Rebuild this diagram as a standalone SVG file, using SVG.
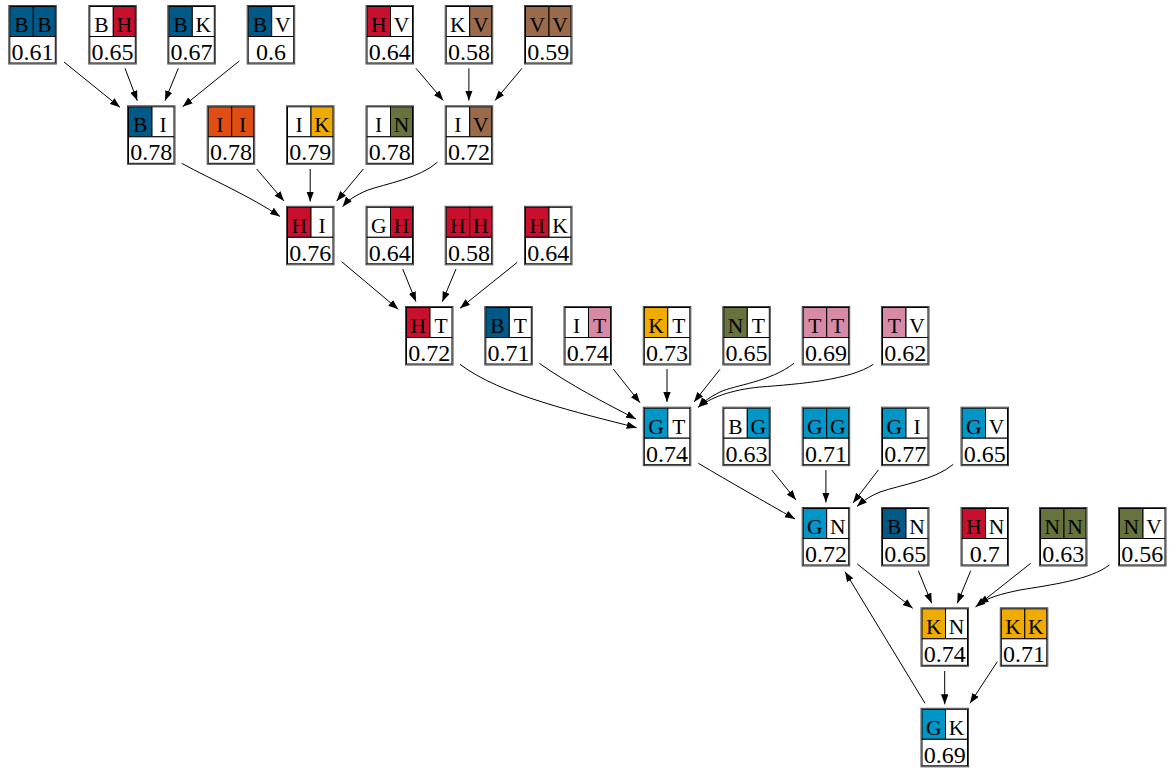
<svg xmlns="http://www.w3.org/2000/svg" width="1169" height="771" viewBox="0 0 1169 771">
<style>
.ob{fill:none;stroke:#444;stroke-width:1}
.c{stroke:#000;stroke-width:1}
.w{fill:#fff}
.B{fill:#005a87}.H{fill:#c8102e}.I{fill:#e04e14}.K{fill:#f0ab00}.N{fill:#66733c}.V{fill:#9a6a4a}.T{fill:#d68aa6}.G{fill:#0096c8}
.l{font-family:"Liberation Serif","Times New Roman",serif;font-size:21.5px;text-anchor:middle;fill:#000}
.n{font-family:"Liberation Serif","Times New Roman",serif;font-size:24px;text-anchor:middle;fill:#000}
.e{fill:none;stroke:#000;stroke-width:1}
</style>
<defs>
<marker id="ah" markerUnits="userSpaceOnUse" markerWidth="11" markerHeight="8" refX="10" refY="3.7" orient="auto">
<path d="M0,0 L10,3.7 L0,7.4 z" fill="#000"/>
</marker>
<g id="frame">
<rect class="ob" x="0.5" y="0.5" width="47.5" height="58.5"/>
</g>
</defs>
<rect width="1169" height="771" fill="#fff"/>

<g id="connectors">
<path class="e" marker-end="url(#ah)" d="M64,62 L120,107.3"/>
<path class="e" marker-end="url(#ah)" d="M125,68.3 L137.3,100.7"/>
<path class="e" marker-end="url(#ah)" d="M178.3,68.3 L165,100.7"/>
<path class="e" marker-end="url(#ah)" d="M239.3,61 L182.7,106.7"/>
<path class="e" marker-end="url(#ah)" d="M416,68.3 L443.3,100.5"/>
<path class="e" marker-end="url(#ah)" d="M468.9,68.3 L468.9,100.5"/>
<path class="e" marker-end="url(#ah)" d="M522,68.3 L495,100.5"/>
<path class="e" marker-end="url(#ah)" d="M181.7,163.3 C212,180 250,196 280,216.5"/>
<path class="e" marker-end="url(#ah)" d="M256.7,169 L284,201"/>
<path class="e" marker-end="url(#ah)" d="M310.2,169 L310.2,201.5"/>
<path class="e" marker-end="url(#ah)" d="M363.3,169 L336.7,201"/>
<path class="e" marker-end="url(#ah)" d="M437.3,162.3 C420,178 385,184 368,190 C356,195 348,200 342.7,206.7"/>
<path class="e" marker-end="url(#ah)" d="M341.7,261.7 L398.3,309.3"/>
<path class="e" marker-end="url(#ah)" d="M402.7,269 L416,301.7"/>
<path class="e" marker-end="url(#ah)" d="M456,269 L442.3,301.7"/>
<path class="e" marker-end="url(#ah)" d="M517.3,262.3 L460,308.3"/>
<path class="e" marker-end="url(#ah)" d="M460,364.3 C500,395 580,413 636.7,427.7"/>
<path class="e" marker-end="url(#ah)" d="M539.3,363.3 C570,385 605,403 636,419"/>
<path class="e" marker-end="url(#ah)" d="M613.3,369 L640,402.7"/>
<path class="e" marker-end="url(#ah)" d="M667,369 L667,402"/>
<path class="e" marker-end="url(#ah)" d="M720,369.3 L694,402"/>
<path class="e" marker-end="url(#ah)" d="M794,363.3 C770,382 735,385 720,392 C710,397 703,402 698.3,407.3"/>
<path class="e" marker-end="url(#ah)" d="M873.3,364.3 C850,380 800,384 760,387 C730,390 710,398 698.3,407.3"/>
<path class="e" marker-end="url(#ah)" d="M698.3,463.3 C730,482 765,502 795,519"/>
<path class="e" marker-end="url(#ah)" d="M771.7,470 L796,500"/>
<path class="e" marker-end="url(#ah)" d="M825.9,470 L825.9,502.5"/>
<path class="e" marker-end="url(#ah)" d="M878.3,470 L853,503"/>
<path class="e" marker-end="url(#ah)" d="M953.3,464.3 C935,480 900,485 880,492 C868,497 862,502 857,506.5"/>
<path class="e" marker-end="url(#ah)" d="M857.3,564 L912.7,608.3"/>
<path class="e" marker-end="url(#ah)" d="M918.3,570.7 L931.7,603.3"/>
<path class="e" marker-end="url(#ah)" d="M970.7,570.7 L957.3,603.3"/>
<path class="e" marker-end="url(#ah)" d="M1030.7,563.3 L975.5,607"/>
<path class="e" marker-end="url(#ah)" d="M1109.3,565 C1090,580 1050,585 1020,590 C1000,594 988,598 978.5,604"/>
<path class="e" marker-end="url(#ah)" d="M944.7,671 L944.7,704.3"/>
<path class="e" marker-end="url(#ah)" d="M997.3,661.7 L970,703.3"/>
<path class="e" marker-end="url(#ah)" d="M925,703.3 L845,571.7"/>
</g>

<g id="BB" transform="translate(8.3,5)"><rect class="c B" x="1.5" y="1.5" width="23.5" height="30"/><rect class="c B" x="25" y="1.5" width="22" height="30"/><rect class="c w" x="1.5" y="31.5" width="45.5" height="26.5"/><use href="#frame"/><text class="l" x="13.2" y="27">B</text><text class="l" x="36" y="27">B</text><text class="n" x="24.25" y="55">0.61</text></g>
<g id="BH" transform="translate(88.3,5)"><rect class="c w" x="1.5" y="1.5" width="23.5" height="30"/><rect class="c H" x="25" y="1.5" width="22" height="30"/><rect class="c w" x="1.5" y="31.5" width="45.5" height="26.5"/><use href="#frame"/><text class="l" x="13.2" y="27">B</text><text class="l" x="36" y="27">H</text><text class="n" x="24.25" y="55">0.65</text></g>
<g id="BK" transform="translate(167.3,5)"><rect class="c B" x="1.5" y="1.5" width="23.5" height="30"/><rect class="c w" x="25" y="1.5" width="22" height="30"/><rect class="c w" x="1.5" y="31.5" width="45.5" height="26.5"/><use href="#frame"/><text class="l" x="13.2" y="27">B</text><text class="l" x="36" y="27">K</text><text class="n" x="24.25" y="55">0.67</text></g>
<g id="BV" transform="translate(246.7,5)"><rect class="c B" x="1.5" y="1.5" width="23.5" height="30"/><rect class="c w" x="25" y="1.5" width="22" height="30"/><rect class="c w" x="1.5" y="31.5" width="45.5" height="26.5"/><use href="#frame"/><text class="l" x="13.2" y="27">B</text><text class="l" x="36" y="27">V</text><text class="n" x="24.25" y="55">0.6</text></g>
<g id="HV" transform="translate(365.5,5)"><rect class="c H" x="1.5" y="1.5" width="23.5" height="30"/><rect class="c w" x="25" y="1.5" width="22" height="30"/><rect class="c w" x="1.5" y="31.5" width="45.5" height="26.5"/><use href="#frame"/><text class="l" x="13.2" y="27">H</text><text class="l" x="36" y="27">V</text><text class="n" x="24.25" y="55">0.64</text></g>
<g id="KV" transform="translate(444.7,5)"><rect class="c w" x="1.5" y="1.5" width="23.5" height="30"/><rect class="c V" x="25" y="1.5" width="22" height="30"/><rect class="c w" x="1.5" y="31.5" width="45.5" height="26.5"/><use href="#frame"/><text class="l" x="13.2" y="27">K</text><text class="l" x="36" y="27">V</text><text class="n" x="24.25" y="55">0.58</text></g>
<g id="VV" transform="translate(524,5)"><rect class="c V" x="1.5" y="1.5" width="23.5" height="30"/><rect class="c V" x="25" y="1.5" width="22" height="30"/><rect class="c w" x="1.5" y="31.5" width="45.5" height="26.5"/><use href="#frame"/><text class="l" x="13.2" y="27">V</text><text class="l" x="36" y="27">V</text><text class="n" x="24.25" y="55">0.59</text></g>

<g id="BI" transform="translate(127,105.3)"><rect class="c B" x="1.5" y="1.5" width="23.5" height="30"/><rect class="c w" x="25" y="1.5" width="22" height="30"/><rect class="c w" x="1.5" y="31.5" width="45.5" height="26.5"/><use href="#frame"/><text class="l" x="13.2" y="27">B</text><text class="l" x="36" y="27">I</text><text class="n" x="24.25" y="55">0.78</text></g>
<g id="II" transform="translate(206.7,105.3)"><rect class="c I" x="1.5" y="1.5" width="23.5" height="30"/><rect class="c I" x="25" y="1.5" width="22" height="30"/><rect class="c w" x="1.5" y="31.5" width="45.5" height="26.5"/><use href="#frame"/><text class="l" x="13.2" y="27">I</text><text class="l" x="36" y="27">I</text><text class="n" x="24.25" y="55">0.78</text></g>
<g id="IK" transform="translate(286,105.3)"><rect class="c w" x="1.5" y="1.5" width="23.5" height="30"/><rect class="c K" x="25" y="1.5" width="22" height="30"/><rect class="c w" x="1.5" y="31.5" width="45.5" height="26.5"/><use href="#frame"/><text class="l" x="13.2" y="27">I</text><text class="l" x="36" y="27">K</text><text class="n" x="24.25" y="55">0.79</text></g>
<g id="IN" transform="translate(365.5,105.3)"><rect class="c w" x="1.5" y="1.5" width="23.5" height="30"/><rect class="c N" x="25" y="1.5" width="22" height="30"/><rect class="c w" x="1.5" y="31.5" width="45.5" height="26.5"/><use href="#frame"/><text class="l" x="13.2" y="27">I</text><text class="l" x="36" y="27">N</text><text class="n" x="24.25" y="55">0.78</text></g>
<g id="IV" transform="translate(444.7,105.3)"><rect class="c w" x="1.5" y="1.5" width="23.5" height="30"/><rect class="c V" x="25" y="1.5" width="22" height="30"/><rect class="c w" x="1.5" y="31.5" width="45.5" height="26.5"/><use href="#frame"/><text class="l" x="13.2" y="27">I</text><text class="l" x="36" y="27">V</text><text class="n" x="24.25" y="55">0.72</text></g>

<g id="HI" transform="translate(286,205.8)"><rect class="c H" x="1.5" y="1.5" width="23.5" height="30"/><rect class="c w" x="25" y="1.5" width="22" height="30"/><rect class="c w" x="1.5" y="31.5" width="45.5" height="26.5"/><use href="#frame"/><text class="l" x="13.2" y="27">H</text><text class="l" x="36" y="27">I</text><text class="n" x="24.25" y="55">0.76</text></g>
<g id="GH" transform="translate(365.5,205.8)"><rect class="c w" x="1.5" y="1.5" width="23.5" height="30"/><rect class="c H" x="25" y="1.5" width="22" height="30"/><rect class="c w" x="1.5" y="31.5" width="45.5" height="26.5"/><use href="#frame"/><text class="l" x="13.2" y="27">G</text><text class="l" x="36" y="27">H</text><text class="n" x="24.25" y="55">0.64</text></g>
<g id="HH" transform="translate(444.7,205.8)"><rect class="c H" x="1.5" y="1.5" width="23.5" height="30"/><rect class="c H" x="25" y="1.5" width="22" height="30"/><rect class="c w" x="1.5" y="31.5" width="45.5" height="26.5"/><use href="#frame"/><text class="l" x="13.2" y="27">H</text><text class="l" x="36" y="27">H</text><text class="n" x="24.25" y="55">0.58</text></g>
<g id="HK" transform="translate(524,205.8)"><rect class="c H" x="1.5" y="1.5" width="23.5" height="30"/><rect class="c w" x="25" y="1.5" width="22" height="30"/><rect class="c w" x="1.5" y="31.5" width="45.5" height="26.5"/><use href="#frame"/><text class="l" x="13.2" y="27">H</text><text class="l" x="36" y="27">K</text><text class="n" x="24.25" y="55">0.64</text></g>

<g id="HT" transform="translate(405,306)"><rect class="c H" x="1.5" y="1.5" width="23.5" height="30"/><rect class="c w" x="25" y="1.5" width="22" height="30"/><rect class="c w" x="1.5" y="31.5" width="45.5" height="26.5"/><use href="#frame"/><text class="l" x="13.2" y="27">H</text><text class="l" x="36" y="27">T</text><text class="n" x="24.25" y="55">0.72</text></g>
<g id="BT" transform="translate(484.3,306)"><rect class="c B" x="1.5" y="1.5" width="23.5" height="30"/><rect class="c w" x="25" y="1.5" width="22" height="30"/><rect class="c w" x="1.5" y="31.5" width="45.5" height="26.5"/><use href="#frame"/><text class="l" x="13.2" y="27">B</text><text class="l" x="36" y="27">T</text><text class="n" x="24.25" y="55">0.71</text></g>
<g id="IT" transform="translate(563.5,306)"><rect class="c w" x="1.5" y="1.5" width="23.5" height="30"/><rect class="c T" x="25" y="1.5" width="22" height="30"/><rect class="c w" x="1.5" y="31.5" width="45.5" height="26.5"/><use href="#frame"/><text class="l" x="13.2" y="27">I</text><text class="l" x="36" y="27">T</text><text class="n" x="24.25" y="55">0.74</text></g>
<g id="KT" transform="translate(642.8,306)"><rect class="c K" x="1.5" y="1.5" width="23.5" height="30"/><rect class="c w" x="25" y="1.5" width="22" height="30"/><rect class="c w" x="1.5" y="31.5" width="45.5" height="26.5"/><use href="#frame"/><text class="l" x="13.2" y="27">K</text><text class="l" x="36" y="27">T</text><text class="n" x="24.25" y="55">0.73</text></g>
<g id="NT" transform="translate(722.3,306)"><rect class="c N" x="1.5" y="1.5" width="23.5" height="30"/><rect class="c w" x="25" y="1.5" width="22" height="30"/><rect class="c w" x="1.5" y="31.5" width="45.5" height="26.5"/><use href="#frame"/><text class="l" x="13.2" y="27">N</text><text class="l" x="36" y="27">T</text><text class="n" x="24.25" y="55">0.65</text></g>
<g id="TT" transform="translate(801.7,306)"><rect class="c T" x="1.5" y="1.5" width="23.5" height="30"/><rect class="c T" x="25" y="1.5" width="22" height="30"/><rect class="c w" x="1.5" y="31.5" width="45.5" height="26.5"/><use href="#frame"/><text class="l" x="13.2" y="27">T</text><text class="l" x="36" y="27">T</text><text class="n" x="24.25" y="55">0.69</text></g>
<g id="TV" transform="translate(881,306)"><rect class="c T" x="1.5" y="1.5" width="23.5" height="30"/><rect class="c w" x="25" y="1.5" width="22" height="30"/><rect class="c w" x="1.5" y="31.5" width="45.5" height="26.5"/><use href="#frame"/><text class="l" x="13.2" y="27">T</text><text class="l" x="36" y="27">V</text><text class="n" x="24.25" y="55">0.62</text></g>

<g id="GT" transform="translate(642.8,406.7)"><rect class="c G" x="1.5" y="1.5" width="23.5" height="30"/><rect class="c w" x="25" y="1.5" width="22" height="30"/><rect class="c w" x="1.5" y="31.5" width="45.5" height="26.5"/><use href="#frame"/><text class="l" x="13.2" y="27">G</text><text class="l" x="36" y="27">T</text><text class="n" x="24.25" y="55">0.74</text></g>
<g id="BG" transform="translate(722.3,406.7)"><rect class="c w" x="1.5" y="1.5" width="23.5" height="30"/><rect class="c G" x="25" y="1.5" width="22" height="30"/><rect class="c w" x="1.5" y="31.5" width="45.5" height="26.5"/><use href="#frame"/><text class="l" x="13.2" y="27">B</text><text class="l" x="36" y="27">G</text><text class="n" x="24.25" y="55">0.63</text></g>
<g id="GG" transform="translate(801.7,406.7)"><rect class="c G" x="1.5" y="1.5" width="23.5" height="30"/><rect class="c G" x="25" y="1.5" width="22" height="30"/><rect class="c w" x="1.5" y="31.5" width="45.5" height="26.5"/><use href="#frame"/><text class="l" x="13.2" y="27">G</text><text class="l" x="36" y="27">G</text><text class="n" x="24.25" y="55">0.71</text></g>
<g id="GI" transform="translate(881,406.7)"><rect class="c G" x="1.5" y="1.5" width="23.5" height="30"/><rect class="c w" x="25" y="1.5" width="22" height="30"/><rect class="c w" x="1.5" y="31.5" width="45.5" height="26.5"/><use href="#frame"/><text class="l" x="13.2" y="27">G</text><text class="l" x="36" y="27">I</text><text class="n" x="24.25" y="55">0.77</text></g>
<g id="GV" transform="translate(960.5,406.7)"><rect class="c G" x="1.5" y="1.5" width="23.5" height="30"/><rect class="c w" x="25" y="1.5" width="22" height="30"/><rect class="c w" x="1.5" y="31.5" width="45.5" height="26.5"/><use href="#frame"/><text class="l" x="13.2" y="27">G</text><text class="l" x="36" y="27">V</text><text class="n" x="24.25" y="55">0.65</text></g>

<g id="GN" transform="translate(801.7,507)"><rect class="c G" x="1.5" y="1.5" width="23.5" height="30"/><rect class="c w" x="25" y="1.5" width="22" height="30"/><rect class="c w" x="1.5" y="31.5" width="45.5" height="26.5"/><use href="#frame"/><text class="l" x="13.2" y="27">G</text><text class="l" x="36" y="27">N</text><text class="n" x="24.25" y="55">0.72</text></g>
<g id="BN" transform="translate(881,507)"><rect class="c B" x="1.5" y="1.5" width="23.5" height="30"/><rect class="c w" x="25" y="1.5" width="22" height="30"/><rect class="c w" x="1.5" y="31.5" width="45.5" height="26.5"/><use href="#frame"/><text class="l" x="13.2" y="27">B</text><text class="l" x="36" y="27">N</text><text class="n" x="24.25" y="55">0.65</text></g>
<g id="HN" transform="translate(960.5,507)"><rect class="c H" x="1.5" y="1.5" width="23.5" height="30"/><rect class="c w" x="25" y="1.5" width="22" height="30"/><rect class="c w" x="1.5" y="31.5" width="45.5" height="26.5"/><use href="#frame"/><text class="l" x="13.2" y="27">H</text><text class="l" x="36" y="27">N</text><text class="n" x="24.25" y="55">0.7</text></g>
<g id="NN" transform="translate(1039,507)"><rect class="c N" x="1.5" y="1.5" width="23.5" height="30"/><rect class="c N" x="25" y="1.5" width="22" height="30"/><rect class="c w" x="1.5" y="31.5" width="45.5" height="26.5"/><use href="#frame"/><text class="l" x="13.2" y="27">N</text><text class="l" x="36" y="27">N</text><text class="n" x="24.25" y="55">0.63</text></g>
<g id="NV" transform="translate(1118,507)"><rect class="c N" x="1.5" y="1.5" width="23.5" height="30"/><rect class="c w" x="25" y="1.5" width="22" height="30"/><rect class="c w" x="1.5" y="31.5" width="45.5" height="26.5"/><use href="#frame"/><text class="l" x="13.2" y="27">N</text><text class="l" x="36" y="27">V</text><text class="n" x="24.25" y="55">0.56</text></g>

<g id="KN" transform="translate(920.5,607.3)"><rect class="c K" x="1.5" y="1.5" width="23.5" height="30"/><rect class="c w" x="25" y="1.5" width="22" height="30"/><rect class="c w" x="1.5" y="31.5" width="45.5" height="26.5"/><use href="#frame"/><text class="l" x="13.2" y="27">K</text><text class="l" x="36" y="27">N</text><text class="n" x="24.25" y="55">0.74</text></g>
<g id="KK" transform="translate(999.8,607.3)"><rect class="c K" x="1.5" y="1.5" width="23.5" height="30"/><rect class="c K" x="25" y="1.5" width="22" height="30"/><rect class="c w" x="1.5" y="31.5" width="45.5" height="26.5"/><use href="#frame"/><text class="l" x="13.2" y="27">K</text><text class="l" x="36" y="27">K</text><text class="n" x="24.25" y="55">0.71</text></g>

<g id="GK" transform="translate(920.5,707.8)"><rect class="c G" x="1.5" y="1.5" width="23.5" height="30"/><rect class="c w" x="25" y="1.5" width="22" height="30"/><rect class="c w" x="1.5" y="31.5" width="45.5" height="26.5"/><use href="#frame"/><text class="l" x="13.2" y="27">G</text><text class="l" x="36" y="27">K</text><text class="n" x="24.25" y="55">0.69</text></g>
</svg>
